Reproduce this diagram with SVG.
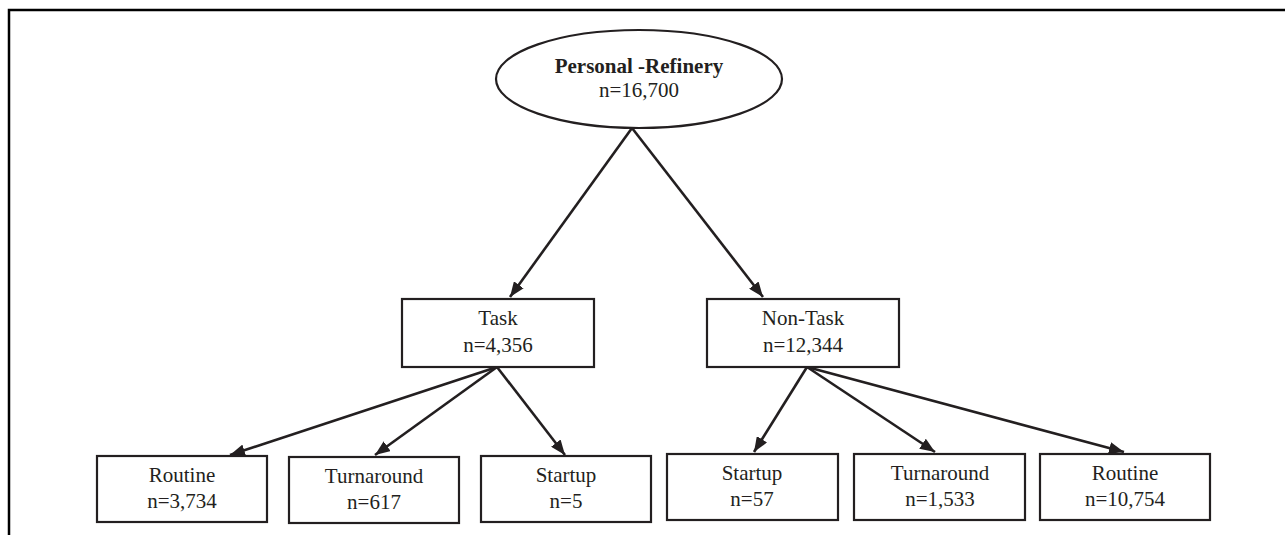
<svg xmlns="http://www.w3.org/2000/svg" width="1285" height="535" viewBox="0 0 1285 535">
<style>
.box{fill:#fff;stroke:#231f20;stroke-width:2.2}
.t{font-family:"Liberation Serif","Times New Roman",serif;font-size:21px;fill:#231f20;text-anchor:middle}
.b{font-weight:bold}
.c{stroke:#231f20;stroke-width:2.6;fill:none;marker-end:url(#ah)}
</style>
<defs>
<marker id="ah" markerUnits="userSpaceOnUse" markerWidth="16" markerHeight="12" refX="15" refY="6" orient="auto">
<path d="M0,0 L15,6 L0,12 z" fill="#231f20"/>
</marker>
</defs>
<rect width="1285" height="535" fill="#fff"/>
<path d="M9,535 V10 H1285" fill="none" stroke="#000" stroke-width="2.5"/>
<g id="connectors">
<line class="c" x1="632" y1="128" x2="510" y2="297"/>
<line class="c" x1="632" y1="128" x2="763" y2="297"/>
<line class="c" x1="497" y1="367" x2="230" y2="455"/>
<line class="c" x1="497" y1="367" x2="375" y2="455"/>
<line class="c" x1="497" y1="367" x2="565" y2="455"/>
<line class="c" x1="807" y1="367" x2="754" y2="452"/>
<line class="c" x1="807" y1="367" x2="935" y2="452"/>
<line class="c" x1="807" y1="367" x2="1124" y2="452"/>
</g>
<g id="root">
<ellipse class="box" cx="639" cy="79" rx="143" ry="49"/>
<text class="t b" x="639" y="73">Personal -Refinery</text>
<text class="t" x="639" y="97">n=16,700</text>
</g>
<g id="task">
<rect class="box" x="402" y="299" width="192" height="68"/>
<text class="t" x="498" y="325">Task</text>
<text class="t" x="498" y="352">n=4,356</text>
</g>
<g id="nontask">
<rect class="box" x="707" y="299" width="192" height="68"/>
<text class="t" x="803" y="325">Non-Task</text>
<text class="t" x="803" y="352">n=12,344</text>
</g>
<g id="task-routine">
<rect class="box" x="97" y="456" width="170" height="66"/>
<text class="t" x="182" y="482">Routine</text>
<text class="t" x="182" y="508">n=3,734</text>
</g>
<g id="task-turnaround">
<rect class="box" x="289" y="457" width="170" height="66"/>
<text class="t" x="374" y="483">Turnaround</text>
<text class="t" x="374" y="509">n=617</text>
</g>
<g id="task-startup">
<rect class="box" x="481" y="456" width="170" height="66"/>
<text class="t" x="566" y="482">Startup</text>
<text class="t" x="566" y="508">n=5</text>
</g>
<g id="nontask-startup">
<rect class="box" x="667" y="454" width="171" height="66"/>
<text class="t" x="752" y="480">Startup</text>
<text class="t" x="752" y="506">n=57</text>
</g>
<g id="nontask-turnaround">
<rect class="box" x="854" y="454" width="171" height="66"/>
<text class="t" x="940" y="480">Turnaround</text>
<text class="t" x="940" y="506">n=1,533</text>
</g>
<g id="nontask-routine">
<rect class="box" x="1040" y="454" width="170" height="66"/>
<text class="t" x="1125" y="480">Routine</text>
<text class="t" x="1125" y="506">n=10,754</text>
</g>
</svg>
